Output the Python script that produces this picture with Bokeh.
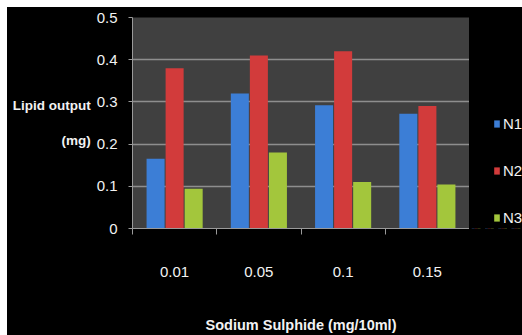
import numpy as np
from bokeh.plotting import figure
from bokeh.layouts import row
from bokeh.models import (ColumnDataSource, FixedTicker, CustomJSTickFormatter,
                          Legend, LegendItem, Range1d)
from bokeh.transform import dodge
from bokeh.embed import file_html
from bokeh.resources import INLINE

# ---- data ----
categories = ["0.01", "0.05", "0.1", "0.15"]
n1 = [0.165, 0.32, 0.292, 0.272]
n2 = [0.38, 0.41, 0.42, 0.29]
n3 = [0.094, 0.18, 0.11, 0.104]
series_names = ["N1", "N2", "N3"]
y_ticks = [0, 0.1, 0.2, 0.3, 0.4, 0.5]

colors = ["#3c7ed6", "#d23b3b", "#a3c63c"]
FONT = "Liberation Sans"
TXT = "#f2f2f2"

centers = np.arange(len(categories)) + 0.5
source = ColumnDataSource(dict(x=centers, n1=n1, n2=n2, n3=n3))

p = figure(width=462, height=328, output_backend="svg", toolbar_location=None,
           x_range=Range1d(0, len(categories)), y_range=Range1d(0, 0.5),
           background_fill_color="#404040", border_fill_color="#000000",
           min_border_left=125, min_border_right=0, min_border_top=10,
           min_border_bottom=106, outline_line_color=None)

bw = 0.214
offsets = [-0.226, 0.0, 0.226]
renderers = []
for key, off, col in zip(["n1", "n2", "n3"], offsets, colors):
    r = p.vbar(x=dodge("x", off), top=key, width=bw, source=source,
               fill_color=col, line_color=None)
    renderers.append(r)

# y axis
p.yaxis.ticker = FixedTicker(ticks=y_ticks)
p.yaxis.formatter = CustomJSTickFormatter(code="return String(Number(tick.toFixed(2)));")
p.yaxis.major_label_text_font = FONT
p.yaxis.major_label_text_font_size = "15px"
p.yaxis.major_label_text_color = TXT
p.yaxis.axis_line_color = "#9a9a9a"
p.yaxis.major_tick_line_color = "#9a9a9a"
p.yaxis.major_tick_in = 0
p.yaxis.major_tick_out = 4
p.yaxis.minor_tick_line_color = None
p.yaxis.major_label_standoff = 11
p.yaxis.axis_label = "Lipid output\n(mg)"
p.yaxis.axis_label_orientation = "horizontal"
p.yaxis.axis_label_text_font = FONT
p.yaxis.axis_label_text_font_style = "bold"
p.yaxis.axis_label_text_font_size = "13.5px"
p.yaxis.axis_label_text_color = TXT
p.yaxis.axis_label_text_align = "center"
p.yaxis.axis_label_text_line_height = 2.3
p.yaxis.axis_label_standoff = 3

# x axis
p.xaxis.ticker = FixedTicker(ticks=list(centers), minor_ticks=list(range(len(categories) + 1)))
p.xaxis.formatter = CustomJSTickFormatter(args=dict(labels=categories),
                                          code="return labels[Math.floor(tick)];")
p.xaxis.major_tick_line_color = None
p.xaxis.major_tick_in = 0
p.xaxis.major_tick_out = 6
p.xaxis.minor_tick_line_color = "#9a9a9a"
p.xaxis.minor_tick_in = 0
p.xaxis.minor_tick_out = 6
p.xaxis.axis_line_color = "#9a9a9a"
p.xaxis.major_label_text_font = FONT
p.xaxis.major_label_text_font_size = "15px"
p.xaxis.major_label_text_color = TXT
p.xaxis.major_label_standoff = 32
p.xaxis.axis_label = "Sodium Sulphide (mg/10ml)"
p.xaxis.axis_label_text_font = FONT
p.xaxis.axis_label_text_font_style = "bold"
p.xaxis.axis_label_text_font_size = "14.5px"
p.xaxis.axis_label_text_color = TXT
p.xaxis.axis_label_standoff = 37

p.xgrid.grid_line_color = None
p.ygrid.ticker = FixedTicker(ticks=y_ticks)
p.ygrid.grid_line_color = "#8e8e8e"
p.ygrid.grid_line_width = 1.5

# legend panel (separate narrow figure on the right, black background)
pl = figure(width=53, height=328, output_backend="svg", toolbar_location=None,
            x_range=Range1d(0, len(categories)), y_range=Range1d(10, 11),
            background_fill_color="#000000", border_fill_color="#000000",
            min_border=0, outline_line_color=None)
pl.xaxis.visible = False
pl.yaxis.visible = False
pl.xgrid.grid_line_color = None
pl.ygrid.grid_line_color = None
leg_renderers = []
for key, off, col in zip(["n1", "n2", "n3"], offsets, colors):
    r = pl.vbar(x=dodge("x", off), top=key, width=bw, source=source,
                fill_color=col, line_color=None)
    leg_renderers.append(r)

legend = Legend(items=[LegendItem(label=n, renderers=[r]) for n, r in zip(series_names, leg_renderers)],
                location=(24, 1), orientation="vertical",
                background_fill_alpha=0, border_line_color=None,
                padding=0, margin=0, spacing=27, label_height=20,
                glyph_width=7, glyph_height=9, label_standoff=3,
                label_text_font=FONT, label_text_font_size="15px",
                label_text_color=TXT)
pl.add_layout(legend)

layout = row(p, pl, spacing=0, margin=(7, 0, 0, 7),
             styles={"background-color": "#000000"})
open("out.html", "w").write(file_html(layout, INLINE))
